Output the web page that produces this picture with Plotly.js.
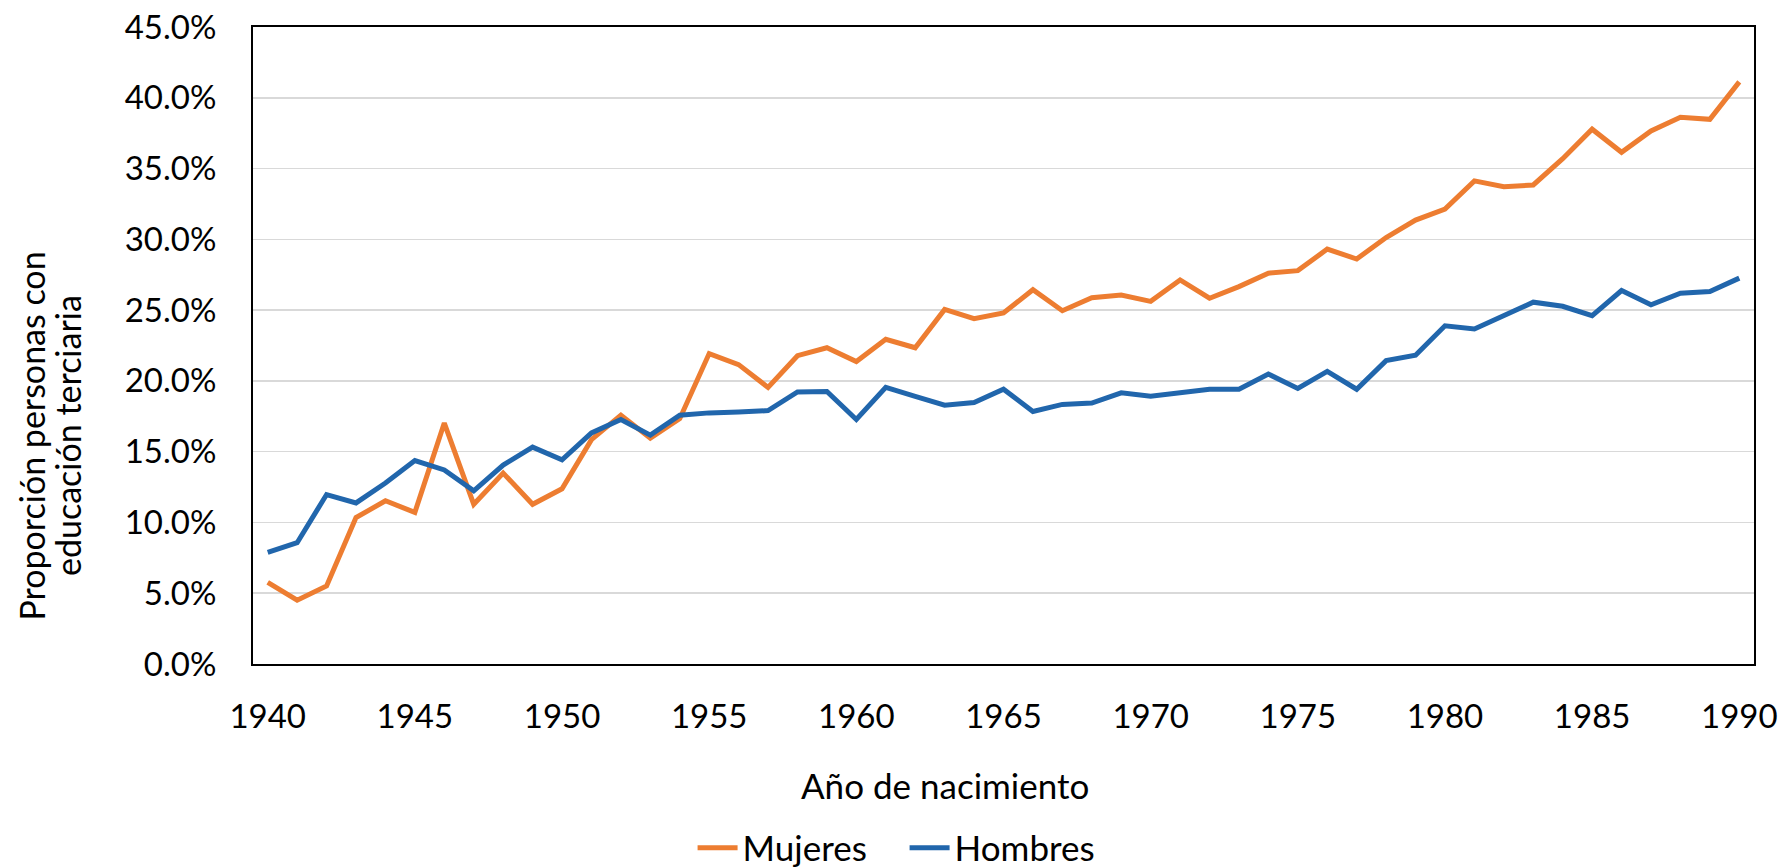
<!DOCTYPE html>
<html>
<head>
<meta charset="utf-8">
<script src="https://cdn.plot.ly/plotly-3.0.1.min.js"></script>
<style>html,body{margin:0;padding:0;background:#fff;}#chart{width:1785px;height:867px;}</style>
</head>
<body>
<div id="chart"></div>
<script>
const years = [];
for (let y = 1940; y <= 1990; y++) years.push(y);

const mujeres = [5.77, 4.51, 5.51, 10.34, 11.53, 10.71, 17.02, 11.28, 13.49, 11.28,
  12.38, 15.85, 17.58, 15.95, 17.33, 21.93, 21.15, 19.54, 21.78, 22.34,
  21.37, 22.94, 22.34, 25.05, 24.39, 24.80, 26.44, 24.96, 25.87, 26.06,
  25.62, 27.13, 25.84, 26.66, 27.61, 27.79, 29.31, 28.61, 30.13, 31.36,
  32.14, 34.13, 33.72, 33.84, 35.70, 37.78, 36.15, 37.66, 38.63, 38.48, 41.12];

const hombres = [7.88, 8.57, 11.97, 11.38, 12.79, 14.37, 13.71, 12.23, 14.05, 15.32,
  14.43, 16.32, 17.27, 16.17, 17.58, 17.74, 17.80, 17.90, 19.22, 19.25,
  17.27, 19.54, 18.91, 18.28, 18.47, 19.41, 17.84, 18.34, 18.43, 19.16,
  18.91, 19.16, 19.41, 19.41, 20.48, 19.47, 20.67, 19.41, 21.43, 21.81,
  23.89, 23.67, 24.58, 25.56, 25.27, 24.61, 26.38, 25.37, 26.19, 26.31, 27.26];

const seriesNames = ['Mujeres', 'Hombres'];
const seriesColors = ['#ED7D31', '#2166AC'];
const xTitle = 'Año de nacimiento';
const yTitleLines = ['Proporción personas con', 'educación terciaria'];

const FONT = 'Lato, "Open Sans", sans-serif';

const traces = [mujeres, hombres].map((vals, i) => ({
  x: years,
  y: vals.map(v => v / 100),
  type: 'scatter',
  mode: 'lines',
  name: seriesNames[i],
  line: {color: seriesColors[i], width: 5, shape: 'linear'},
  hoverinfo: 'x+y'
}));

const layout = {
  width: 1785,
  height: 867,
  margin: {l: 253, r: 31, t: 27, b: 203, autoexpand: false},
  paper_bgcolor: '#fff',
  plot_bgcolor: '#fff',
  font: {family: FONT, size: 32, color: '#000'},
  showlegend: true,
  legend: {
    orientation: 'h',
    xref: 'container', yref: 'container',
    x: 0.388, xanchor: 'left',
    y: 0.022, yanchor: 'middle',
    font: {family: FONT, size: 35, color: '#000'},
    traceorder: 'normal',
    itemwidth: 40,
    entrywidth: 157,
    bgcolor: 'rgba(0,0,0,0)'
  },
  xaxis: {
    range: [1939.5, 1990.5],
    tickmode: 'linear', tick0: 1940, dtick: 5,
    showgrid: false,
    zeroline: false,
    showline: true, mirror: true, linecolor: '#000', linewidth: 2,
    ticks: 'outside', ticklen: 22, tickcolor: 'rgba(0,0,0,0)',
    tickfont: {family: FONT, size: 33, color: '#000'},
    fixedrange: true
  },
  yaxis: {
    range: [0, 0.45],
    tickmode: 'linear', tick0: 0, dtick: 0.05,
    tickformat: '.1%',
    showgrid: true, gridcolor: '#D9D9D9', gridwidth: 1.5,
    zeroline: false,
    showline: true, mirror: true, linecolor: '#000', linewidth: 2,
    ticks: 'outside', ticklen: 28, tickcolor: 'rgba(0,0,0,0)',
    tickfont: {family: FONT, size: 33, color: '#000'},
    fixedrange: true
  },
  annotations: [
    {text: xTitle, xref: 'paper', yref: 'paper', x: 0.4607, y: -0.1907,
     xanchor: 'center', yanchor: 'middle', showarrow: false,
     font: {family: FONT, size: 35, color: '#000'}},
    {text: yTitleLines[0], xref: 'paper', yref: 'paper', x: -0.1475, y: 0.358,
     xanchor: 'center', yanchor: 'middle', showarrow: false, textangle: -90,
     font: {family: FONT, size: 34, color: '#000'}},
    {text: yTitleLines[1], xref: 'paper', yref: 'paper', x: -0.1232, y: 0.358,
     xanchor: 'center', yanchor: 'middle', showarrow: false, textangle: -90,
     font: {family: FONT, size: 34, color: '#000'}}
  ]
};

Plotly.newPlot('chart', traces, layout, {displayModeBar: false, staticPlot: true});
</script>
</body>
</html>
